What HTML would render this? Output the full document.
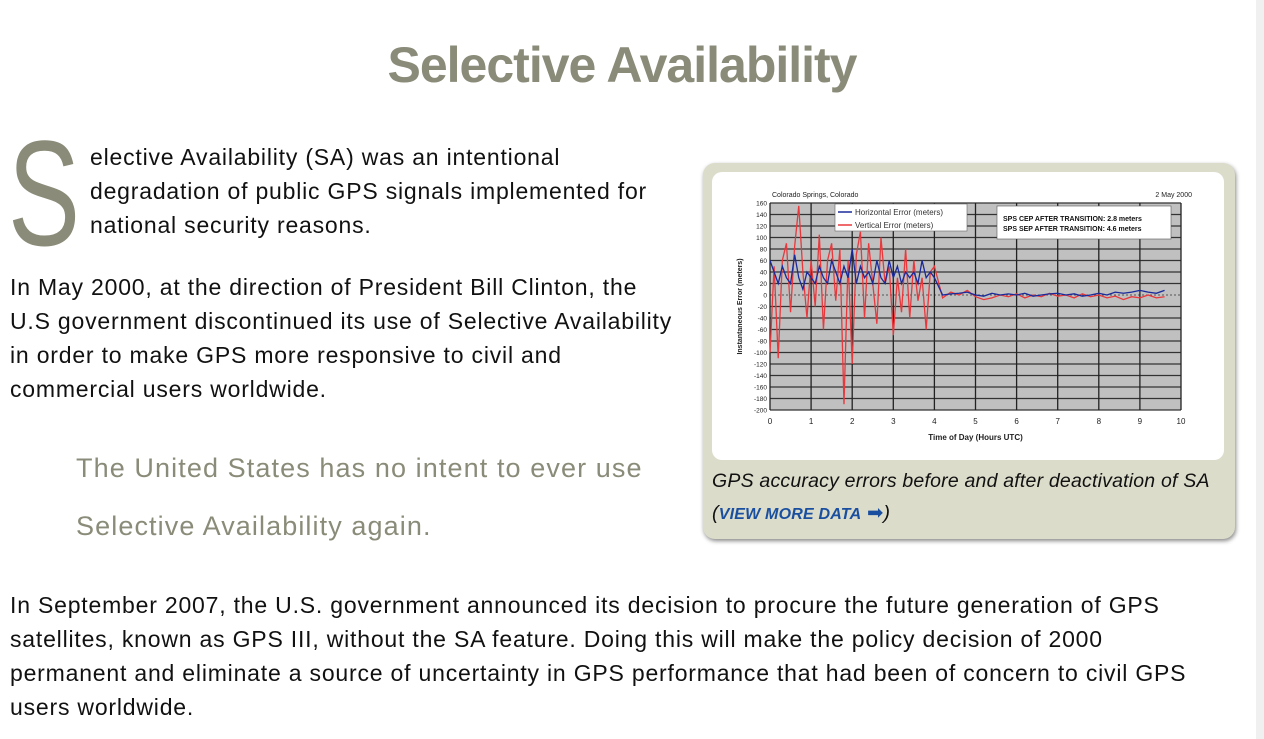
<!DOCTYPE html>
<html><head><meta charset="utf-8">
<style>
body{margin:0;width:1264px;height:739px;overflow:hidden;background:#fff;font-family:"Liberation Sans",sans-serif;color:#111;position:relative}
.ab{position:absolute;white-space:nowrap}
.t{font-size:23px;line-height:34px;letter-spacing:0.8px}
#sb{position:absolute;left:1256px;top:0;width:8px;height:739px;background:#f0f0f0}
</style></head><body>
<div id="sb"></div>
<div class="ab" style="left:0;width:1244px;text-align:center;top:36px;font-size:50px;font-weight:bold;color:#8a8b78;letter-spacing:-1px">Selective Availability</div>
<div class="ab" style="left:8px;top:118px;font-size:150px;line-height:150px;color:#8a8b78;transform:scaleX(0.72);transform-origin:0 0">S</div>
<div class="ab t" style="left:90px;top:140px">elective Availability (SA) was an intentional<br>degradation of public GPS signals implemented for<br>national security reasons.</div>
<div class="ab t" style="left:10px;top:270px">In May 2000, at the direction of President Bill Clinton, the<br>U.S government discontinued its use of Selective Availability<br>in order to make GPS more responsive to civil and<br>commercial users worldwide.</div>
<div class="ab" style="left:76px;top:439px;font-size:27px;line-height:58px;color:#8a8b78;letter-spacing:1.1px">The United States has no intent to ever use<br>Selective Availability again.</div>
<div class="ab t" style="left:10px;top:588px">In September 2007, the U.S. government announced its decision to procure the future generation of GPS<br>satellites, known as GPS III, without the SA feature. Doing this will make the policy decision of 2000<br>permanent and eliminate a source of uncertainty in GPS performance that had been of concern to civil GPS<br>users worldwide.</div>

<div style="position:absolute;left:703px;top:163px;width:532px;height:376px;background:#dcdccb;border-radius:12px;box-shadow:1px 2px 4px #888"></div>
<div style="position:absolute;left:712px;top:172px;width:512px;height:288px;background:#fff;border-radius:10px"></div>
<div class="ab" style="left:712px;top:465px;font-size:19.5px;line-height:32px;font-style:italic;letter-spacing:0.2px">GPS accuracy errors before and after deactivation of SA<br>(<span style="color:#1a4fa0;font-weight:bold;font-size:16px">VIEW MORE DATA</span> <span style="color:#1a4fa0;font-style:normal">&#10145;</span>)</div>

<svg id="chart" width="1264" height="739" style="position:absolute;left:0;top:0"></svg>
<script>
const yTicks=[-200,-180,-160,-140,-120,-100,-80,-60,-40,-20,0,20,40,60,80,100,120,140,160];
const xTicks=[0,1,2,3,4,5,6,7,8,9,10];
const vertSA=[-100,50,-110,60,90,-30,85,155,40,-40,60,-20,105,-60,60,90,-10,80,-190,60,-120,70,110,-40,90,20,-50,100,20,50,-70,30,-30,80,-40,60,-10,30,-60,40,50];
const horzSA=[60,40,20,50,30,20,70,30,10,40,30,20,50,30,20,60,40,20,50,30,80,20,50,30,40,20,60,30,20,60,30,50,20,40,30,40,20,60,30,40,30];
const vertPost=[-5,5,0,8,-3,-8,-5,0,-3,2,-5,0,-3,3,-2,0,-5,2,-3,0,-5,-2,-8,-3,-5,0,-5,-3];
const horzPost=[0,2,3,5,0,-2,3,0,2,0,3,-2,0,2,3,0,2,-2,0,3,0,5,3,5,8,5,3,8];
const NS='http://www.w3.org/2000/svg',svg=document.getElementById('chart');
const L=770,R=1181,T=203,B=410;
const X=v=>L+(v-0)/10*(R-L), Y=v=>B-(v+200)/360*(B-T);
function el(t,a,p){const e=document.createElementNS(NS,t);for(const k in a)e.setAttribute(k,a[k]);(p||svg).appendChild(e);return e;}
const bg=el('rect',{x:L,y:T,width:R-L,height:B-T,fill:'#c0c0c0'});


yTicks.forEach(v=>{
 const g=el('line',{x1:L,x2:R,y1:Y(v),y2:Y(v),stroke:v===0?'#555':'#333','stroke-width':v===0?1:1.2,'stroke-dasharray':v===0?'2,2':''});
 
 
 const t=el('text',{x:L-3,y:Y(v)+2.5,'font-size':6.5,'text-anchor':'end',fill:'#222'});
 t.textContent=v;
 
 
});
xTicks.forEach(v=>{
 const g=el('line',{x1:X(v),x2:X(v),y1:T,y2:B,stroke:'#222','stroke-width':1.3});
 
 
 const t=el('text',{x:X(v),y:B+14,'font-size':8,'text-anchor':'middle',fill:'#222'});
 t.textContent=v;
 
 
});
function series(sa,post,color,name){
 const pts=[];
 sa.forEach((v,i)=>pts.push(X(i*0.1)+','+Y(v)));
 post.forEach((v,i)=>pts.push(X(4.2+i*0.2)+','+Y(v)));
 const p=el('polyline',{points:pts.join(' '),fill:'none',stroke:color,'stroke-width':1.3});
 
 
}
series(vertSA,vertPost,'#e8383c','vertical-error-line');
series(horzSA,horzPost,'#1a2a9a','horizontal-error-line');
const lg=el('g',{});


el('rect',{x:835,y:204,width:132,height:27,fill:'#fff',stroke:'#666','stroke-width':0.6},lg);
el('line',{x1:838,x2:852,y1:212,y2:212,stroke:'#1a2a9a','stroke-width':1.5},lg);
el('line',{x1:838,x2:852,y1:225,y2:225,stroke:'#e8383c','stroke-width':1.5},lg);
let t=el('text',{x:855,y:215,'font-size':8,fill:'#333'},lg);t.textContent='Horizontal Error (meters)';
t=el('text',{x:855,y:228,'font-size':8,fill:'#333'},lg);t.textContent='Vertical Error (meters)';
const ib=el('g',{});


el('rect',{x:997,y:206,width:174,height:33,fill:'#fff',stroke:'#555','stroke-width':0.6},ib);
t=el('text',{x:1003,y:221,'font-size':7,'font-weight':'bold',fill:'#111'},ib);t.textContent='SPS CEP AFTER TRANSITION:  2.8 meters';
t=el('text',{x:1003,y:231,'font-size':7,'font-weight':'bold',fill:'#111'},ib);t.textContent='SPS SEP AFTER TRANSITION:  4.6 meters';
t=el('text',{x:772,y:197,'font-size':7,fill:'#222'});t.textContent='Colorado Springs, Colorado';


t=el('text',{x:1192,y:197,'font-size':7,fill:'#222','text-anchor':'end'});t.textContent='2 May 2000';


t=el('text',{x:(L+R)/2,y:440,'font-size':8,'font-weight':'bold',fill:'#222','text-anchor':'middle'});t.textContent='Time of Day (Hours UTC)';


t=el('text',{x:0,y:0,'font-size':7,'font-weight':'bold',fill:'#222','text-anchor':'middle',transform:'translate(742,'+((T+B)/2)+') rotate(-90)'});t.textContent='Instantaneous Error (meters)';


</script>
</body></html>
